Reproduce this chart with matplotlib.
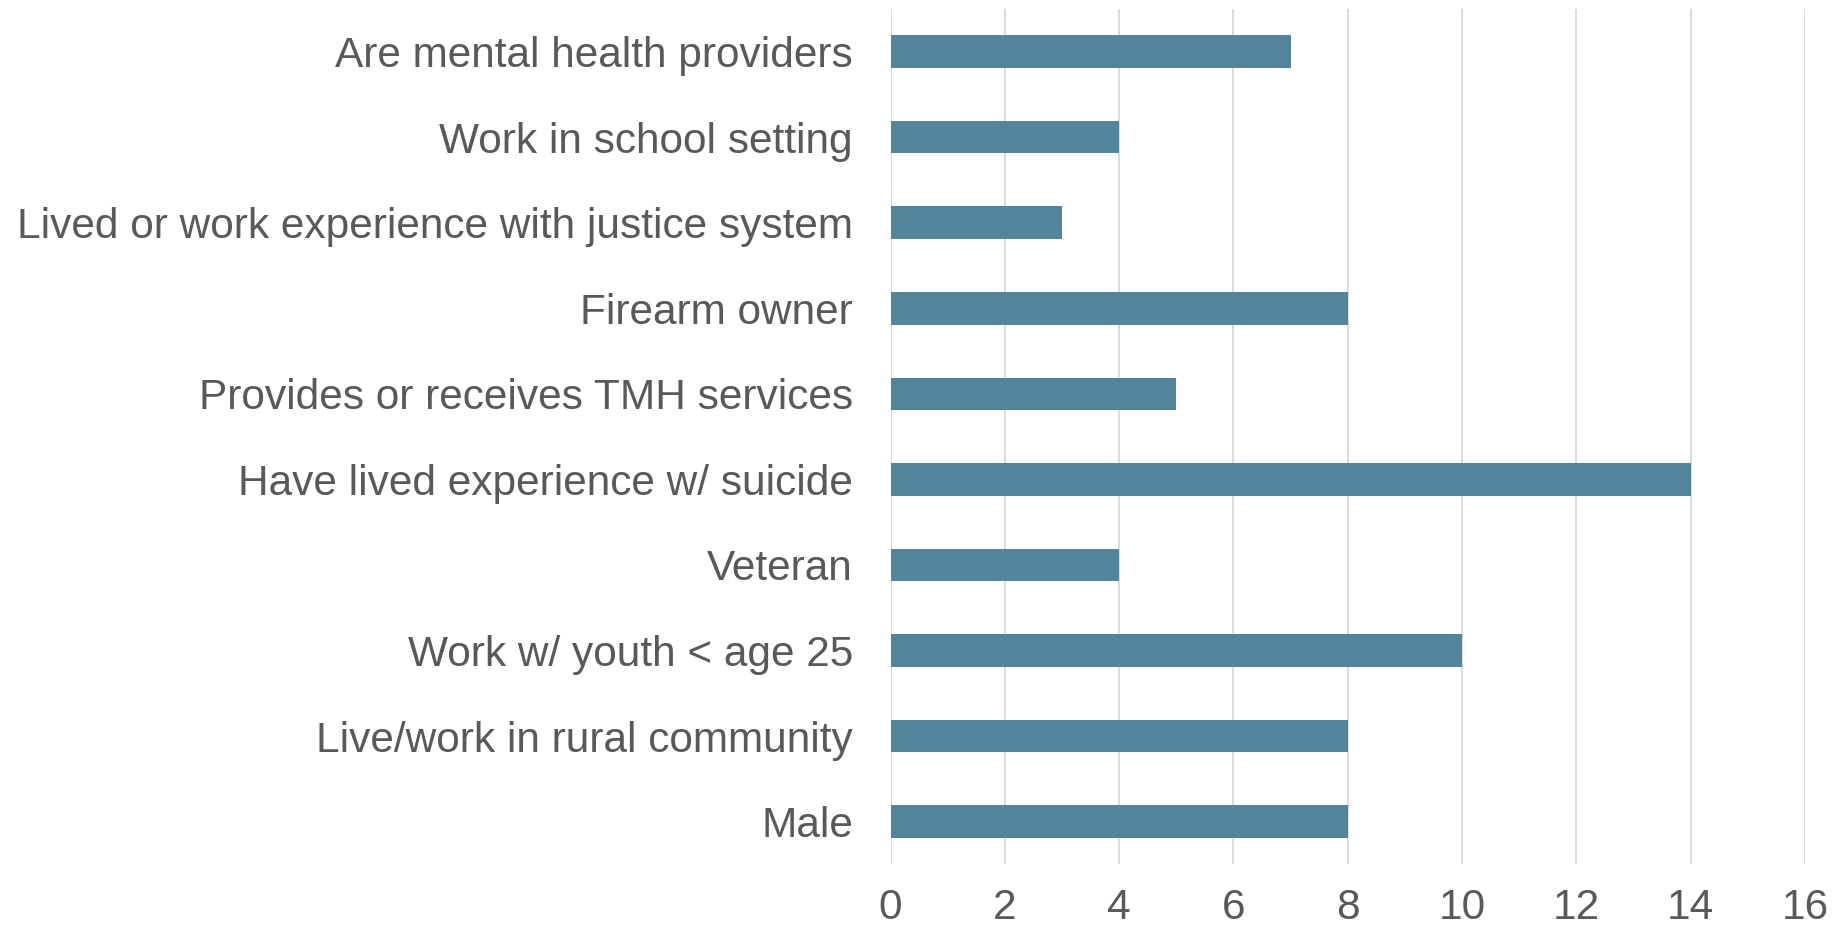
import matplotlib.pyplot as plt

# Datos (de arriba hacia abajo)
categorias = [
    "Are mental health providers",
    "Work in school setting",
    "Lived or work experience with justice system",
    "Firearm owner",
    "Provides or receives TMH services",
    "Have lived experience w/ suicide",
    "Veteran",
    "Work w/ youth < age 25",
    "Live/work in rural community",
    "Male",
]
valores = [7, 4, 3, 8, 5, 14, 4, 10, 8, 8]
ticks_x = [0, 2, 4, 6, 8, 10, 12, 14, 16]

COLOR_BARRA = "#52849C"
COLOR_TEXTO = "#595959"
COLOR_GRILLA = "#D9D9D9"

plt.rcParams['font.family'] = ['Liberation Sans', 'DejaVu Sans']

fig = plt.figure(figsize=(18.4, 9.26), dpi=100)
ax = fig.add_axes([0.484, 0.0665, 0.497, 0.924])

posiciones = list(range(len(categorias)))
ax.barh(posiciones, valores, height=0.38, color=COLOR_BARRA, zorder=3)

ax.set_ylim(len(categorias) - 0.5, -0.5)
ax.set_xlim(0, 16)
ax.set_xticks(ticks_x)
ax.set_yticks(posiciones)
ax.set_yticklabels(categorias)

ax.grid(axis='x', color=COLOR_GRILLA, linewidth=1.3, zorder=0)
for lado in ax.spines.values():
    lado.set_visible(False)

ax.tick_params(axis='both', length=0, labelsize=30.5, colors=COLOR_TEXTO)
ax.tick_params(axis='y', pad=27)
ax.tick_params(axis='x', pad=17)

fig.savefig("out.png", dpi=100)
